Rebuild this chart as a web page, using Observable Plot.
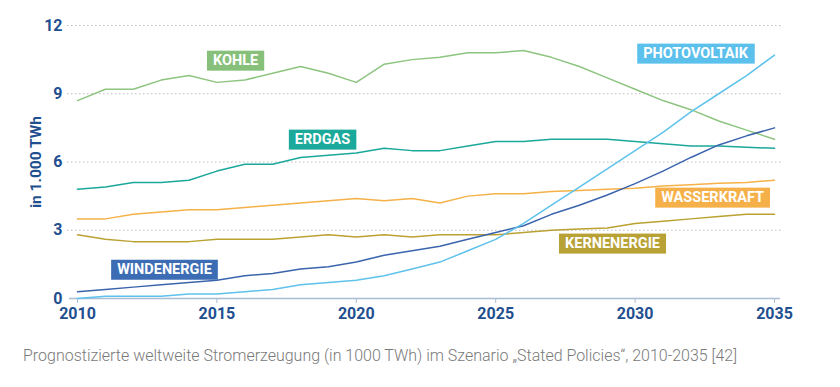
<!DOCTYPE html>
<html><head><meta charset="utf-8">
<script src="https://cdn.jsdelivr.net/npm/d3@7"></script>
<script src="https://cdn.jsdelivr.net/npm/@observablehq/plot@0.6"></script>
<style>
body{margin:0;background:#fff;font-family:Roboto,sans-serif;}
#wrap{position:relative;width:840px;height:387px;overflow:hidden;}
#caption{position:absolute;left:23px;top:345px;font-family:Roboto;font-weight:300;font-size:17px;line-height:20px;color:#7a7a7a;white-space:nowrap;transform-origin:0 0;}
</style></head><body>
<div id="wrap"><div id="chart"></div><div id="caption">Prognostizierte weltweite Stromerzeugung (in 1000 TWh) im Szenario „Stated Policies“, 2010-2035 [42]</div></div>
<script>
const years = [2010,2011,2012,2013,2014,2015,2016,2017,2018,2019,2020,2021,2022,2023,2024,2025,2026,2027,2028,2029,2030,2031,2032,2033,2034,2035];
const kohle = [8.7,9.2,9.2,9.6,9.8,9.5,9.6,9.9,10.2,9.9,9.5,10.3,10.5,10.6,10.8,10.8,10.9,10.6,10.2,9.7,9.2,8.7,8.3,7.8,7.4,7.0];
const erdgas = [4.8,4.9,5.1,5.1,5.2,5.6,5.9,5.9,6.2,6.3,6.4,6.6,6.5,6.5,6.7,6.9,6.9,7.0,7.0,7.0,6.9,6.8,6.7,6.7,6.65,6.6];
const wasserkraft = [3.5,3.5,3.7,3.8,3.9,3.9,4.0,4.1,4.2,4.3,4.4,4.3,4.4,4.2,4.5,4.6,4.6,4.7,4.75,4.8,4.85,4.95,5.0,5.07,5.1,5.2];
const kernenergie = [2.8,2.6,2.5,2.5,2.5,2.6,2.6,2.6,2.7,2.8,2.7,2.8,2.7,2.8,2.8,2.8,2.9,3.0,3.05,3.1,3.3,3.4,3.5,3.6,3.7,3.7];
const windenergie = [0.3,0.4,0.5,0.6,0.7,0.8,1.0,1.1,1.3,1.4,1.6,1.9,2.1,2.3,2.6,2.9,3.2,3.7,4.1,4.55,5.05,5.6,6.2,6.75,7.15,7.5];
const photovoltaik = [0.0,0.1,0.1,0.1,0.2,0.2,0.3,0.4,0.6,0.7,0.8,1.0,1.3,1.6,2.1,2.6,3.3,4.1,4.9,5.7,6.5,7.3,8.2,9.0,9.8,10.7];

const seriesNames = ["KOHLE","ERDGAS","WASSERKRAFT","KERNENERGIE","WINDENERGIE","PHOTOVOLTAIK"];
const seriesValues = [kohle, erdgas, wasserkraft, kernenergie, windenergie, photovoltaik];
const seriesColors = ["#8dc47f","#1aa89a","#f6b148","#b9a232","#3b64ad","#5ec2ec"];
const labelColors = ["#87c07a","#1aa99b","#f5b04a","#b8a135","#3c6db4","#5bc0eb"];

const xTicks = [2010,2015,2020,2025,2030,2035];
const yTicks = [0,3,6,9,12];

// label anchors (year, value) for the annotation boxes
const labelX = [2015.67, 2018.79, 2032.78, 2029.19, 2013.12, 2032.17];
const labelY = [10.46, 6.99, 4.44, 2.42, 1.27, 10.77];

const rows = [];
seriesNames.forEach((s, i) => years.forEach((yr, j) => rows.push({series: s, year: yr, value: seriesValues[i][j]})));
const labels = seriesNames.map((s, i) => ({name: s, x: labelX[i], y: labelY[i]}));

const blue = "#1f4f8f";
const chart = Plot.plot({
  width: 840, height: 340,
  marginTop: 25, marginBottom: 42, marginLeft: 77, marginRight: 66,
  style: {fontFamily: "Roboto, sans-serif", background: "#fff"},
  x: {domain: [2010, 2035]},
  y: {domain: [0, 12]},
  color: {domain: seriesNames, range: seriesColors},
  marks: [
    Plot.ruleY(yTicks.filter(d => d > 0), {stroke: "#bdbdbd", strokeDasharray: "1.5,2.5", insetLeft: -10, insetRight: -8}),
    Plot.ruleY([0], {stroke: "#a9bdd3", strokeWidth: 1.5, insetLeft: -8, insetRight: -6}),
    Plot.axisX({ticks: xTicks, tickFormat: d => String(d), tickSize: 5, stroke: "#a9bdd3", fill: blue, fontWeight: "bold", fontSize: 16, tickPadding: 4, label: null}),
    Plot.axisY({ticks: yTicks, tickSize: 0, tickPadding: 15, fill: blue, fontWeight: "bold", fontSize: 16, label: "in 1.000 TWh", labelAnchor: "center", labelOffset: 48, labelArrow: "none"}),
    Plot.line(rows, {x: "year", y: "value", z: "series", stroke: "series", strokeWidth: 1.5}),
    Plot.text(labels, {x: "x", y: "y", text: "name", fill: "white", fontWeight: "bold", fontSize: 14.5})
  ]
});
document.getElementById("chart").appendChild(chart);

// boxes behind labels
const ns = "http://www.w3.org/2000/svg";
const tg = chart.querySelector('g[aria-label="text"]');
if (tg) {
  tg.querySelectorAll("text").forEach(t => {
    const b = t.getBBox();
    const i = seriesNames.indexOf(t.textContent);
    const r = document.createElementNS(ns, "rect");
    const h = 20;
    r.setAttribute("x", b.x - 6);
    r.setAttribute("width", b.width + 12);
    r.setAttribute("y", b.y + b.height / 2 - h / 2);
    r.setAttribute("height", h);
    r.setAttribute("fill", labelColors[i]);
    if (t.getAttribute("transform")) r.setAttribute("transform", t.getAttribute("transform"));
    tg.insertBefore(r, t);
  });
}
// y label styling
chart.querySelectorAll('g[aria-label="y-axis label"] text').forEach(t => { t.setAttribute("font-size", 15.5); t.setAttribute("font-weight", "bold"); t.setAttribute("fill", blue); });

// fit caption width
const cap = document.getElementById("caption");
const w = cap.getBoundingClientRect().width;
cap.style.transform = `scaleX(${714 / w})`;
</script>
</body></html>
